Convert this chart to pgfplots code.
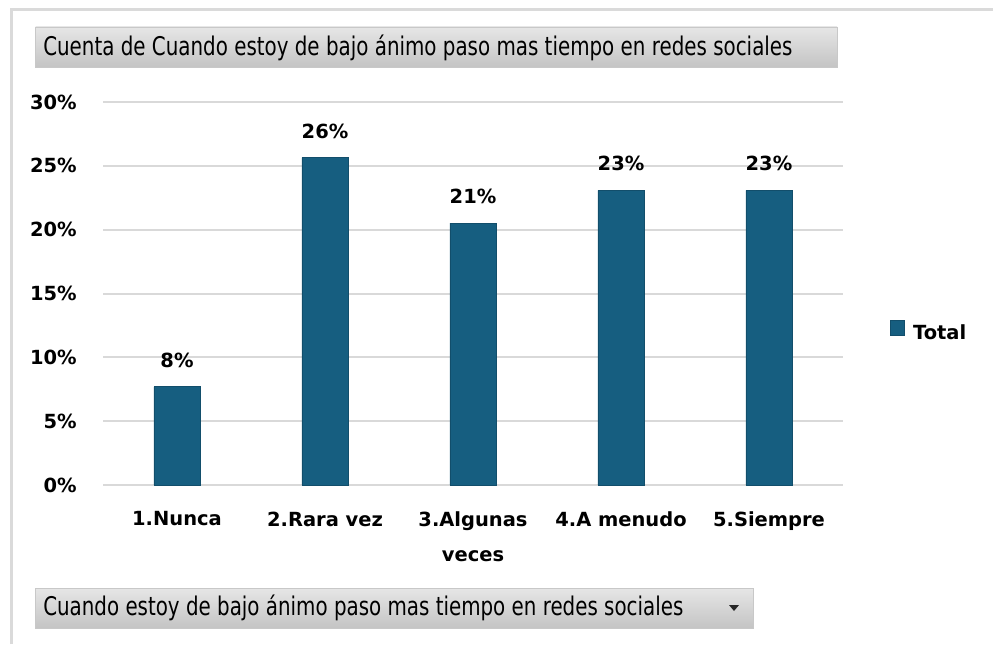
\documentclass[border=0pt]{standalone}
\usepackage{pgfplots}
\pgfplotsset{compat=1.18}
\usepackage{fontspec}
\setmainfont{DejaVu Sans}
\usepackage{graphicx}
\definecolor{barc}{HTML}{165E80}
\definecolor{barborder}{HTML}{124E6B}
\definecolor{gridc}{HTML}{D9D9D9}
\definecolor{framec}{HTML}{DADADA}
\definecolor{boxtop}{HTML}{E6E6E6}
\definecolor{boxbot}{HTML}{C4C4C4}
\definecolor{boxborder}{HTML}{C8C8C8}
\newcommand{\lbl}{\fontsize{14.6pt}{26.25pt}\selectfont\bfseries}
\begin{document}
\begin{tikzpicture}
\path[use as bounding box] (0pt,0pt) rectangle (744.75pt,483pt);
\begin{scope}[x=0.75pt,y=-0.75pt,yshift=483pt]
\draw[line width=2.25pt, draw=framec] (11,644) -- (11,9.5) -- (993,9.5);
\shade[top color=boxtop, bottom color=boxbot, draw=boxborder] (35.5,27) rectangle (837,67);
\node[anchor=base west, inner sep=0pt] at (43,55.5) {\resizebox{561.9pt}{\height}{\fontsize{19.3pt}{20pt}\selectfont Cuenta de Cuando estoy de bajo ánimo paso mas tiempo en redes sociales}};
\shade[top color=boxtop, bottom color=boxbot, draw=boxborder] (35.5,588) rectangle (753,628);
\node[anchor=base west, inner sep=0pt] at (43,615) {\resizebox{480pt}{\height}{\fontsize{19.3pt}{20pt}\selectfont Cuando estoy de bajo ánimo paso mas tiempo en redes sociales}};
\fill[black!85] (729,605) -- (739,605) -- (734,611) -- cycle;
\end{scope}
\begin{axis}[
  at={(77.25pt,119.25pt)}, anchor=south west,
  scale only axis, width=555pt, height=287.25pt,
  xmin=-0.5, xmax=4.5, ymin=0, ymax=30,
  axis line style={draw=none},
  major tick length=0pt,
  ymajorgrids,
  grid style={gridc, line width=1.5pt},
  ytick={0,5,10,15,20,25,30},
  yticklabels={0\%,5\%,10\%,15\%,20\%,25\%,30\%},
  yticklabel style={font=\lbl, anchor=east, inner sep=0pt, xshift=-19.5pt},
  xtick={0,1,2,3,4},
  xticklabels={1.Nunca,2.Rara vez,{3.Algunas\\veces},4.A menudo,5.Siempre},
  xticklabel style={font=\lbl, align=center, anchor=north, inner sep=0pt, yshift=-19.9pt},
  /pgf/number format/assume math mode=true,
  ybar, bar width=34.5pt,
  legend style={at={(axis description cs:1.0635,0.4020)}, anchor=west, draw=none, fill=none, inner sep=0pt, font=\lbl, nodes={inner sep=0pt}, /tikz/every odd column/.append style={column sep=6pt}},
  legend image code/.code={\draw[fill=barc, draw=barborder] (0pt,-1.5pt) rectangle (10.5pt,9.3pt);},
]
\addplot[fill=barc, draw=barborder, line width=0.6pt,
  nodes near coords={\pgfmathprintnumber[fixed,precision=0]{\pgfplotspointmeta}\%},
  every node near coord/.append style={font=\lbl, anchor=base, inner sep=0pt, yshift=14.6pt, black}]
  coordinates {(0,7.69) (1,25.64) (2,20.51) (3,23.08) (4,23.08)};
\addlegendentry{Total}
\end{axis}
\end{tikzpicture}
\end{document}
